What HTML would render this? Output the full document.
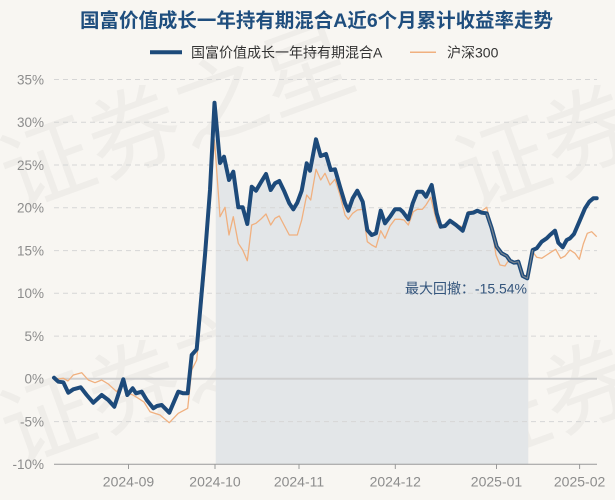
<!DOCTYPE html>
<html>
<head>
<meta charset="utf-8">
<style>
html,body{margin:0;padding:0;background:#f8f6f2;}
svg{display:block;}
text{font-family:"Liberation Sans","Noto Sans CJK SC",sans-serif;}
</style>
</head>
<body>
<svg width="615" height="500" viewBox="0 0 615 500" xmlns="http://www.w3.org/2000/svg">
<rect x="0" y="0" width="615" height="500" fill="#f8f6f2"/>

<!-- watermark -->
<g fill="#000" fill-opacity="0.035" font-size="92" font-family="Liberation Sans, Noto Sans CJK SC, sans-serif">
  <text x="15" y="465" transform="rotate(-20 15 465)">证券之星</text>
  <text x="15" y="210" transform="rotate(-20 15 210)">证券之星</text>
  <text x="470" y="465" transform="rotate(-20 470 465)">证券之星</text>
  <text x="470" y="210" transform="rotate(-20 470 210)">证券之星</text>
</g>

<!-- title -->
<text x="80" y="27" font-size="19.5" font-weight="bold" fill="#1f4e7e" textLength="473" lengthAdjust="spacingAndGlyphs">国富价值成长一年持有期混合A近6个月累计收益率走势</text>

<!-- legend -->
<line x1="150" y1="52.3" x2="182" y2="52.3" stroke="#1d4a7a" stroke-width="4"/>
<text x="191" y="57.5" font-size="14" fill="#333">国富价值成长一年持有期混合A</text>
<line x1="410" y1="52.3" x2="436" y2="52.3" stroke="#f0b07f" stroke-width="1.5"/>
<text x="447" y="57.5" font-size="14" fill="#333">沪深300</text>

<!-- drawdown shade -->
<polygon fill="#e3e6e8" points="215.7,102.7 220,163 224,156.7 229,180 233.3,171.7 238.3,207.3 242.7,207.3 247.3,224 251.7,186.7 256,190.7 260.7,182.7 266,174 270.7,190 275,183.3 279.3,181 284,190.7 289.3,203.3 293.3,209.3 297.3,202.7 301.7,190.7 306.7,163.3 310,170.7 316,139.3 320.7,156 326,154 330.7,170 335,169.3 340,186.7 345,203.3 348.3,210.7 352.7,198.3 357.3,190.7 362.7,201.7 367.3,230 371.7,235 376,233.3 380.7,210.7 385,223.3 390,216.7 395,209.3 400,209.3 402.7,211.7 408.3,219.3 412.7,203.3 417.3,191.7 422.3,191.7 426,196.7 431.7,185 436.7,213.3 440.7,226.7 445,226 450,220.7 456,225 462.7,230.7 468.3,213.3 473.3,212.7 477.3,210.7 481.7,212.7 486.7,213.3 491.7,228.3 496.7,246.7 501.7,253.3 506.7,256 510,260.7 514,262.7 518.3,261.7 522.7,276 527.3,278.3 528.3,278.3 528.3,464.3 215.7,464.3"/>

<!-- grid -->
<g stroke="#d6d6d6" stroke-width="1" stroke-dasharray="5,4">
  <line x1="54" y1="79.5" x2="597" y2="79.5"/>
  <line x1="54" y1="122.3" x2="597" y2="122.3"/>
  <line x1="54" y1="165" x2="597" y2="165"/>
  <line x1="54" y1="207.8" x2="597" y2="207.8"/>
  <line x1="54" y1="250.6" x2="597" y2="250.6"/>
  <line x1="54" y1="293.3" x2="597" y2="293.3"/>
  <line x1="54" y1="336.1" x2="597" y2="336.1"/>
  <line x1="54" y1="421.6" x2="597" y2="421.6"/>
</g>
<line x1="54" y1="378.8" x2="597" y2="378.8" stroke="#cfcfcf" stroke-width="2"/>

<!-- y labels -->
<g font-size="13.5" fill="#8c8c8c" text-anchor="end">
  <text x="44" y="84.3">35%</text>
  <text x="44" y="127.1">30%</text>
  <text x="44" y="169.8">25%</text>
  <text x="44" y="212.6">20%</text>
  <text x="44" y="255.4">15%</text>
  <text x="44" y="298.1">10%</text>
  <text x="44" y="340.9">5%</text>
  <text x="44" y="383.6">0%</text>
  <text x="44" y="426.4">-5%</text>
  <text x="44" y="469.1">-10%</text>
</g>

<!-- x axis -->
<line x1="54" y1="464.3" x2="597" y2="464.3" stroke="#999" stroke-width="1"/>
<g stroke="#999" stroke-width="1">
  <line x1="128.5" y1="464.3" x2="128.5" y2="469"/>
  <line x1="215" y1="464.3" x2="215" y2="469"/>
  <line x1="299" y1="464.3" x2="299" y2="469"/>
  <line x1="395.3" y1="464.3" x2="395.3" y2="469"/>
  <line x1="496.5" y1="464.3" x2="496.5" y2="469"/>
  <line x1="579.6" y1="464.3" x2="579.6" y2="469"/>
</g>
<g font-size="14" fill="#8c8c8c" text-anchor="middle">
  <text x="128.5" y="486.5">2024-09</text>
  <text x="215" y="486.5">2024-10</text>
  <text x="299" y="486.5">2024-11</text>
  <text x="395.3" y="486.5">2024-12</text>
  <text x="496.5" y="486.5">2025-01</text>
  <text x="579.6" y="486.5">2025-02</text>
</g>

<!-- orange series -->
<polyline fill="none" stroke="#f0b07f" stroke-width="1.3" stroke-linejoin="round" points="54,377.7 58,379 63.3,378.3 68,381 73.3,375 81.7,372.7 88.3,380 95,382.7 101.7,380 108.3,384 116.7,391.7 123.3,381.7 128.3,393.3 133,395 138.3,398.3 144,402 150,411.7 160,415 169.3,422.7 178.3,413.3 187.7,408.3 191.7,370 196.7,360 205,270 210,200 214.5,140 220,216.7 225,207.3 229,235 233.3,216.7 238.3,243.3 242.7,250 247.3,260.7 251.7,225 256,223.3 260.7,219.3 266,214 270.7,225 275,218.3 279.3,216 284,225 289.3,235 297.3,235 301.7,220 306.7,195 310.7,200 316,169.3 320.7,180 325,173.3 330,185 335,179.3 340,195 345,215 348.3,219.3 352.7,213.3 357.3,210 362.7,209.3 367.3,241.7 371.7,245 376,247.3 380.7,230.7 385,238.3 390,226 395,219.3 400,219.3 404,220 408.3,225 413.3,211.7 417.3,209.3 422.3,209.3 426,205 430.7,197.3 436.7,221.7 440.7,228.3 445,226 450,222.7 456,225 462.7,226.7 468.3,211.7 473.3,211 477.3,210 481.7,211 486.7,207.3 491.7,228.3 496,255 500,265 505,266 509.3,259.3 515,261.7 518.3,260 522.7,274 527.3,277.3 532.7,251.7 536.7,257.3 541.7,258.3 546.7,255 551.7,251.7 555.7,249.3 560.7,258.3 565,256 570,250 575,253.3 579.3,259.3 583.3,244 587.3,233.3 591.7,231.7 596.7,236.7"/>

<!-- blue series -->
<polyline fill="none" stroke="#1d4a7a" stroke-width="4" stroke-linejoin="round" stroke-linecap="round" points="54,377.7 58.3,381.7 63.3,382.3 68.3,392.7 73.3,389.3 80.7,387.3 86.7,395 93.3,402.7 101.7,395 108.3,400 114.3,406.7 123.3,379.3 127.3,395 132.7,388.3 136,393.3 141.7,391.7 146.7,400 153.3,408.3 157,406 161.7,405 169.3,412.7 178.3,391.7 183.3,393.3 187.7,393.3 191.7,355 196.7,349.3 205,255 210,190 214.5,102.7 220,163 224,156.7 229,180 233.3,171.7 238.3,207.3 242.7,207.3 247.3,224 251.7,186.7 256,190.7 260.7,182.7 266,174 270.7,190 275,183.3 279.3,181 284,190.7 289.3,203.3 293.3,209.3 297.3,202.7 301.7,190.7 306.7,163.3 310,170.7 316,139.3 320.7,156 326,154 330.7,170 335,169.3 340,186.7 345,203.3 348.3,210.7 352.7,198.3 357.3,190.7 362.7,201.7 367.3,230 371.7,235 376,233.3 380.7,210.7 385,223.3 390,216.7 395,209.3 400,209.3 402.7,211.7 408.3,219.3 412.7,203.3 417.3,191.7 422.3,191.7 426,196.7 431.7,185 436.7,213.3 440.7,226.7 445,226 450,220.7 456,225 462.7,230.7 468.3,213.3 473.3,212.7 477.3,210.7 481.7,212.7 486.7,213.3 491.7,228.3 496.7,246.7 501.7,253.3 506.7,256 510,260.7 514,262.7 518.3,261.7 522.7,276 527.3,278.3 532.7,250 536.7,248.3 541.7,241.7 546.7,238.3 550,235 555,230.7 558.3,242.7 562.7,247.3 566.7,240 570,238.3 574,234 579.3,221.7 585,208.3 589.3,201.7 593.3,198.3 596.7,198.3"/>

<!-- drawdown segment highlight -->
<polyline fill="none" stroke="#7a8590" stroke-width="1.2" stroke-linejoin="round" points="486.7,213.3 491.7,228.3 496.7,246.7 501.7,253.3 506.7,256 510,260.7 514,262.7 518.3,261.7 522.7,276 527.3,278.3 532.7,250"/>

<!-- annotation -->
<text x="405" y="293.3" font-size="14" fill="#34557c" textLength="122" lengthAdjust="spacingAndGlyphs">最大回撤：-15.54%</text>
</svg>
</body>
</html>
